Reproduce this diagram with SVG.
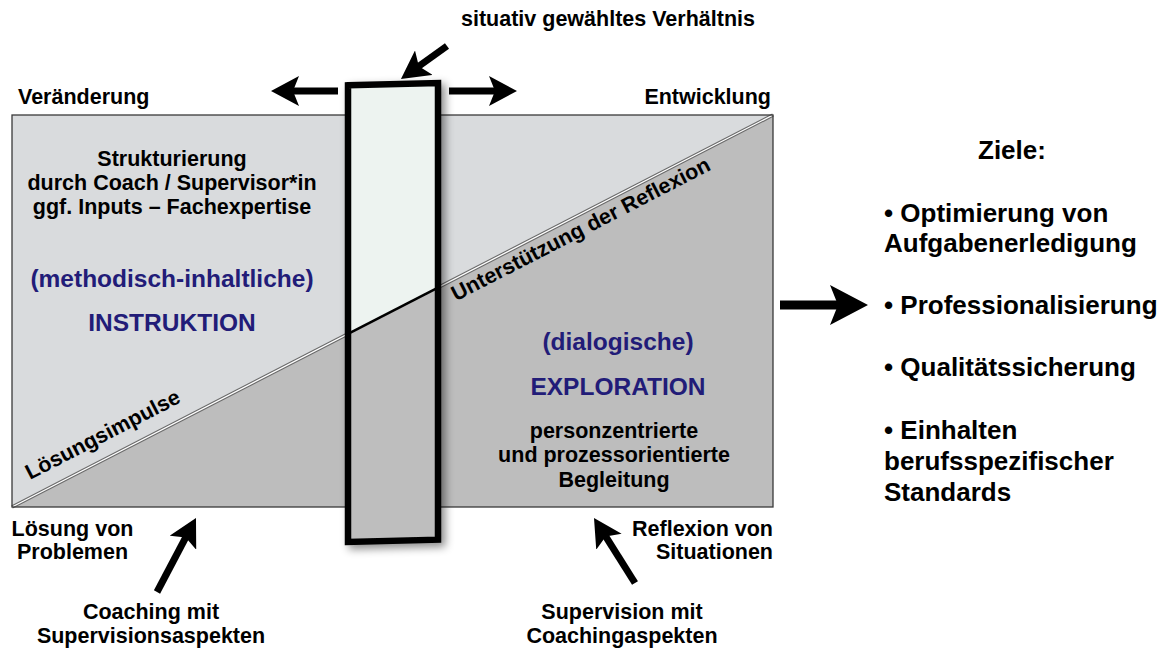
<svg xmlns="http://www.w3.org/2000/svg" width="1165" height="650" viewBox="0 0 1165 650">
<style>
text{font-family:"Liberation Sans",Arial,Helvetica,sans-serif;font-weight:bold;fill:#000}
.b{font-size:21.5px}
.n{font-size:24.5px;fill:#221c78}
.r{font-size:26px}
.c{text-anchor:middle}
.e{text-anchor:end}
.arr{stroke:#000;stroke-width:7;fill:none;marker-end:url(#ah)}
</style>
<defs>
<marker id="ah" markerUnits="userSpaceOnUse" markerWidth="28" markerHeight="30" viewBox="0 0 28 30" refX="10" refY="15" orient="auto">
<path d="M0,0 L28,15 L0,30 L6,15 z" fill="#000"/>
</marker>
<marker id="ahb" markerUnits="userSpaceOnUse" markerWidth="38" markerHeight="40" viewBox="0 0 38 40" refX="12" refY="20" orient="auto">
<path d="M0,0 L38,20 L0,40 L8,20 z" fill="#000"/>
</marker>
<filter id="sh" x="-20%" y="-10%" width="150%" height="130%">
<feDropShadow dx="4" dy="4" stdDeviation="4" flood-color="#000" flood-opacity="0.45"/>
</filter>
</defs>

<g id="field">
<rect x="12" y="115" width="761" height="392" fill="#d9dbdd"/>
<polygon points="12,507 773,115 773,507" fill="#bdbdbd"/>
<line x1="12" y1="507" x2="773" y2="115" stroke="#6a6a6a" stroke-width="3.5"/>
<line x1="12" y1="507" x2="773" y2="115" stroke="#ffffff" stroke-width="1.3"/>
<rect x="12" y="115" width="761" height="392" fill="none" stroke="#3a3a3a" stroke-width="1.3"/>
</g>

<g id="label-instruktion">
<text class="b c" x="172" y="166">Strukturierung</text>
<text class="b c" x="172" y="190">durch Coach / Supervisor*in</text>
<text class="b c" x="172" y="214">ggf. Inputs – Fachexpertise</text>
<text class="n c" x="172" y="287">(methodisch-inhaltliche)</text>
<text class="n c" x="172" y="331">INSTRUKTION</text>
</g>

<g id="label-exploration">
<text class="n c" x="618" y="350">(dialogische)</text>
<text class="n c" x="618" y="395">EXPLORATION</text>
<text class="b c" x="614" y="438">personzentrierte</text>
<text class="b c" x="614" y="462">und prozessorientierte</text>
<text class="b c" x="614" y="487">Begleitung</text>
</g>

<g id="diag-labels">
<text class="b c" transform="translate(584,235.5) rotate(-27.25)">Unterstützung der Reflexion</text>
<text class="b c" transform="translate(106,441) rotate(-27.25)">Lösungsimpulse</text>
</g>

<g id="slider" filter="url(#sh)">
<polygon points="348,85.3 438,83 438,539.7 348,542" fill="#bebebe"/>
<polygon points="348,85.3 438,83 438,287.6 348,333.9" fill="#edf3f0"/>
<line x1="348" y1="333.9" x2="438" y2="287.6" stroke="#000" stroke-width="2.5"/>
<polygon points="348,85.3 438,83 438,539.7 348,542" fill="none" stroke="#000" stroke-width="6.5" stroke-linejoin="miter"/>
</g>

<g id="connectors">
<line class="arr" x1="338" y1="91" x2="289" y2="91"/>
<line class="arr" x1="449" y1="91" x2="499" y2="91"/>
<line class="arr" x1="447" y1="46" x2="415.6" y2="68.5"/>
<line class="arr" x1="157" y1="592" x2="187.6" y2="533.9"/>
<line class="arr" x1="635" y1="583" x2="603.6" y2="533.2"/>
<line x1="780" y1="305" x2="842" y2="305" stroke="#000" stroke-width="9" marker-end="url(#ahb)"/>
</g>

<g id="top-labels">
<text class="b c" x="608" y="26">situativ gewähltes Verhältnis</text>
<text class="b" x="18" y="104">Veränderung</text>
<text class="b e" x="771" y="104">Entwicklung</text>
</g>

<g id="bottom-labels">
<text class="b c" x="72.5" y="536">Lösung von</text>
<text class="b c" x="72.5" y="559">Problemen</text>
<text class="b e" x="773" y="536">Reflexion von</text>
<text class="b e" x="773" y="559">Situationen</text>
<text class="b c" x="151" y="619">Coaching mit</text>
<text class="b c" x="151" y="643">Supervisionsaspekten</text>
<text class="b c" x="622" y="619">Supervision mit</text>
<text class="b c" x="622" y="643">Coachingaspekten</text>
</g>

<g id="ziele">
<text class="r" x="978" y="159">Ziele:</text>
<text class="r" x="884" y="222">• Optimierung von</text>
<text class="r" x="884" y="252">Aufgabenerledigung</text>
<text class="r" x="884" y="314">• Professionalisierung</text>
<text class="r" x="884" y="376">• Qualitätssicherung</text>
<text class="r" x="884" y="439">• Einhalten</text>
<text class="r" x="884" y="470">berufsspezifischer</text>
<text class="r" x="884" y="501">Standards</text>
</g>
</svg>
